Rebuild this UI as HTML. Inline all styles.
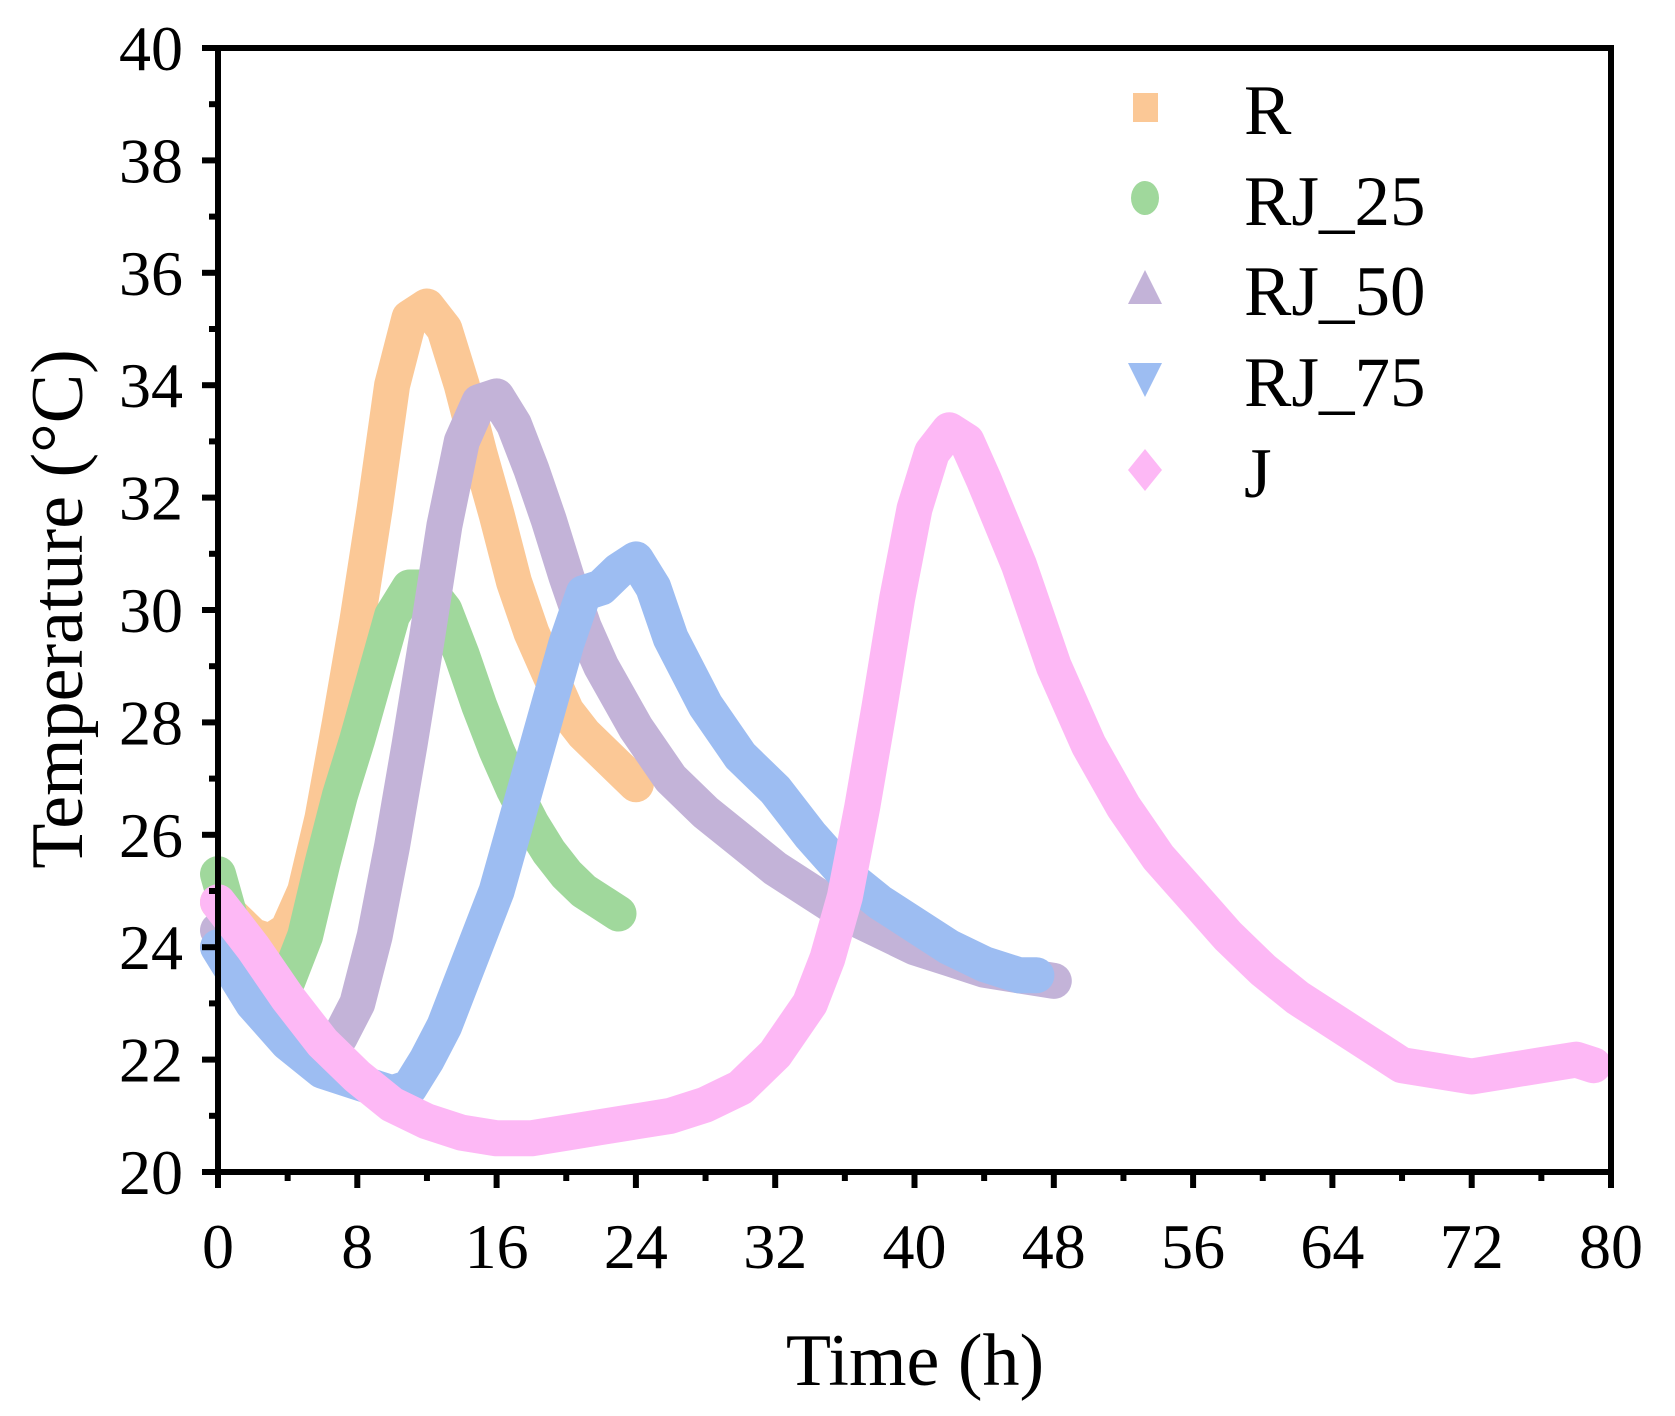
<!DOCTYPE html>
<html><head><meta charset="utf-8"><style>html,body{margin:0;padding:0;background:#fff}svg{display:block}text{font-family:"Liberation Serif",serif;fill:#000}</style></head>
<body>
<svg id="chart" width="1675" height="1416" viewBox="0 0 1675 1416" xmlns="http://www.w3.org/2000/svg">
<g id="series"></g>
<g id="axes"></g>
<g id="legend"></g>
<text x="0" y="0" font-size="74" text-anchor="middle" transform="translate(82,609) rotate(-90)">Temperature (°C)</text>
<text x="915" y="1385" font-size="74" text-anchor="middle">Time (h)</text>
</svg>
<script>
const seriesNames = ["R","RJ_25","RJ_50","RJ_75","J"];
const rX = [0,1,2,3,4,5,6,7,8,9,10,11,12,13,14,15,16,17,18,19,20,21,22,23,24];
const rY = [24.8,24.5,24.2,24.1,24.3,25.0,26.3,28,29.8,31.8,34,35.2,35.4,35,34,32.8,31.7,30.5,29.6,28.9,28.2,27.8,27.5,27.2,26.9];
const rj25X = [0,1,2,3,4,5,6,7,8,9,10,11,12,13,14,15,16,17,18,19,20,21,22,23];
const rj25Y = [25.3,24.2,23.5,23.2,23.4,24.2,25.5,26.7,27.7,28.8,29.9,30.4,30.4,30,29.2,28.3,27.5,26.8,26.2,25.7,25.3,25,24.8,24.6];
const rj50X = [0,2,4,6,7,8,9,10,11,12,13,14,15,16,17,18,19,20,21,22,24,26,28,30,32,34,36,38,40,42,44,46,48];
const rj50Y = [24.3,23.2,22.5,22.2,22.4,23,24.2,25.8,27.6,29.5,31.5,33,33.7,33.8,33.3,32.5,31.6,30.6,29.7,29,27.9,27,26.4,25.9,25.4,25,24.6,24.3,24,23.8,23.6,23.5,23.4];
const rj75X = [0,2,4,6,8,10,11,12,13,14,16,18,19,20,21,22,23,24,25,26,28,30,32,34,36,38,40,42,44,46,47];
const rj75Y = [24,23,22.3,21.8,21.6,21.4,21.5,22,22.6,23.4,25,27.2,28.3,29.4,30.3,30.4,30.7,30.9,30.4,29.5,28.3,27.4,26.8,26,25.3,24.8,24.4,24,23.7,23.5,23.5];
const jX = [0,2,4,6,8,10,12,14,16,18,20,22,24,26,28,30,32,34,35,36,37,38,39,40,41,42,43,44,46,48,50,52,54,56,58,60,62,64,66,68,70,72,74,76,78,79];
const jY = [24.8,24,23.1,22.3,21.7,21.2,20.9,20.7,20.6,20.6,20.7,20.8,20.9,21,21.2,21.5,22.1,23,23.8,24.9,26.5,28.3,30.2,31.8,32.8,33.2,33,32.3,30.8,29,27.6,26.5,25.6,24.9,24.2,23.6,23.1,22.7,22.3,21.9,21.8,21.7,21.8,21.9,22,21.9];
const colors = ["#FBC896","#A0D89C","#C3B3D8","#9DBDF2","#FDB8F5"];
const xTicks = [0,8,16,24,32,40,48,56,64,72,80];
const yTicks = [20,22,24,26,28,30,32,34,36,38,40];

const L=218,R=1611,T=48,B=1172;
const sx=v=>L+(v-0)/(80-0)*(R-L);
const sy=v=>B-(v-20)/(40-20)*(B-T);
const NS="http://www.w3.org/2000/svg";
function mk(tag,attrs,parent){const e=document.createElementNS(NS,tag);for(const k in attrs)e.setAttribute(k,attrs[k]);parent.appendChild(e);return e;}

const sg=document.getElementById('series');
const allX=[rX,rj25X,rj50X,rj75X,jX], allY=[rY,rj25Y,rj50Y,rj75Y,jY];
const names=["series-r","series-rj25","series-rj50","series-rj75","series-j"];
for(let s=0;s<5;s++){
  const pts=allX[s].map((x,i)=>sx(x).toFixed(1)+","+sy(allY[s][i]).toFixed(1)).join(" ");
  const p=mk('polyline',{points:pts,fill:"none",stroke:colors[s],"stroke-width":36,"stroke-linejoin":"round","stroke-linecap":"round"},sg);
  
  
}

const ag=document.getElementById('axes');
const frame=mk('rect',{x:L,y:T,width:R-L,height:B-T,fill:"none",stroke:"#000","stroke-width":6},ag);


for(let v=0;v<=80;v+=4){
  const major=v%8===0;
  const t=mk('line',{x1:sx(v),x2:sx(v),y1:B,y2:B+(major?16:9),stroke:"#000","stroke-width":6},ag);
  
  
}
xTicks.forEach(v=>{
  const t=mk('text',{x:sx(v),y:1268,"font-size":64,"text-anchor":"middle"},ag);t.textContent=v;
  
  
});
for(let v=20;v<=40;v+=1){
  const major=v%2===0;
  const t=mk('line',{x1:L-(major?16:9),x2:L,y1:sy(v),y2:sy(v),stroke:"#000","stroke-width":6},ag);
  
  
}
yTicks.forEach(v=>{
  const t=mk('text',{x:183,y:sy(v)+22,"font-size":64,"text-anchor":"end"},ag);t.textContent=v;
  
  
});

const lg=document.getElementById('legend');
const ly=[107,198,288,379,470], mx=1145;
const shapes=[
  y=>mk('rect',{x:mx-12,y:y-14,width:25,height:29,fill:colors[0]},lg),
  y=>mk('ellipse',{cx:mx,cy:y,rx:14,ry:17,fill:colors[1]},lg),
  y=>mk('polygon',{points:`${mx},${y-18} ${mx+17},${y+16} ${mx-17},${y+16}`,fill:colors[2]},lg),
  y=>mk('polygon',{points:`${mx-17},${y-16} ${mx+17},${y-16} ${mx},${y+18}`,fill:colors[3]},lg),
  y=>mk('polygon',{points:`${mx},${y-21} ${mx+17},${y} ${mx},${y+21} ${mx-17},${y}`,fill:colors[4]},lg)
];
seriesNames.forEach((n,i)=>{
  const m=shapes[i](ly[i]);
  
  
  const t=mk('text',{x:1244,y:ly[i]+27,"font-size":71},lg);t.textContent=n;
  
  
});
</script>
</body></html>
